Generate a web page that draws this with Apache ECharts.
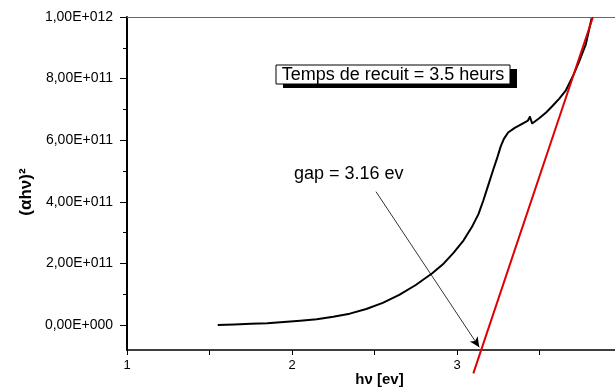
<!DOCTYPE html>
<html>
<head>
<meta charset="utf-8">
<script src="https://cdn.jsdelivr.net/npm/echarts@6/dist/echarts.min.js"></script>
<style>
html,body{margin:0;padding:0;background:#fff;}
#chart{width:615px;height:387px;}
</style>
</head>
<body>
<div id="chart"></div>
<script>
// Absorption curve (hv in eV, (alpha*h*nu)^2)
const hv = [1.55, 1.65, 1.75, 1.85, 1.95, 2.05, 2.15, 2.25, 2.35, 2.45, 2.55, 2.65, 2.75, 2.85, 2.92, 2.98, 3.04, 3.09, 3.13, 3.16, 3.19, 3.22, 3.245, 3.265, 3.285, 3.31, 3.35, 3.40, 3.43, 3.442, 3.455, 3.47, 3.50, 3.54, 3.58, 3.62, 3.66, 3.70, 3.74, 3.78, 3.816];
const alphaHv2 = [0.000e12, 0.002e12, 0.004e12, 0.006e12, 0.010e12, 0.014e12, 0.019e12, 0.027e12, 0.037e12, 0.052e12, 0.072e12, 0.098e12, 0.130e12, 0.168e12, 0.200e12, 0.235e12, 0.275e12, 0.318e12, 0.360e12, 0.405e12, 0.455e12, 0.505e12, 0.545e12, 0.580e12, 0.605e12, 0.625e12, 0.640e12, 0.655e12, 0.664e12, 0.676e12, 0.655e12, 0.660e12, 0.672e12, 0.690e12, 0.712e12, 0.735e12, 0.762e12, 0.805e12, 0.855e12, 0.910e12, 0.996e12];
// Linear fit (red line)
const fitHv = [3.099, 3.824];
const fitY = [-0.157e12, 1.0e12];
// Arrow from label to gap
const arrowHv = [2.509, 3.135];
const arrowY = [0.433e12, -0.072e12];
// Axis ticks
const xMin = 1, xMax = 4, xStep = 0.5;
const yMin = -0.081e12, yMax = 1e12;
const yTickValues = [0, 2e11, 4e11, 6e11, 8e11, 1e12];
const yTickLabels = ['0,00E+000', '2,00E+011', '4,00E+011', '6,00E+011', '8,00E+011', '1,00E+012'];
const yMinorTicks = [1e11, 3e11, 5e11, 7e11, 9e11];
const xTickLabels = {1: '1', 2: '2', 3: '3', 4: '4'};
const boxText = 'Temps de recuit = 3.5 heurs';
const gapText = 'gap = 3.16 ev';

const FONT = "'Liberation Sans', Arial, sans-serif";
const chart = echarts.init(document.getElementById('chart'), null, {renderer: 'canvas'});
const gridRect = {left: 127, top: 17, width: 495, height: 333, outerBoundsMode: 'none'};

const option = {
  animation: false,
  backgroundColor: '#fff',
  grid: [Object.assign({}, gridRect), Object.assign({}, gridRect)],
  xAxis: [{
    type: 'value', gridIndex: 0, min: xMin, max: xMax, interval: xStep,
    name: 'hν [ev]', nameLocation: 'middle', nameGap: 22, nameMoveOverlap: false,
    nameTextStyle: {fontFamily: FONT, fontSize: 15, fontWeight: 'bold', color: '#000', padding: [0, 0, 0, 10]},
    axisLine: {onZero: false, lineStyle: {color: '#000', width: 1.5}},
    axisTick: {length: 5, lineStyle: {color: '#000', width: 1}},
    axisLabel: {margin: 9, fontFamily: FONT, fontSize: 13, color: '#000',
      formatter: v => (xTickLabels[v] !== undefined ? xTickLabels[v] : '')},
    splitLine: {show: false}
  }, {
    type: 'value', gridIndex: 1, position: 'top', min: xMin, max: xMax,
    axisLine: {onZero: false, lineStyle: {color: '#666', width: 1}},
    axisTick: {show: false}, axisLabel: {show: false}, splitLine: {show: false}
  }],
  yAxis: [{
    type: 'value', gridIndex: 0, min: yMin, max: yMax,
    name: '(αhν)²', nameLocation: 'middle', nameGap: 92, nameMoveOverlap: false,
    nameTextStyle: {fontFamily: FONT, fontSize: 17, fontWeight: 'bold', color: '#000', padding: [0, 17, 0, 0]},
    axisLine: {onZero: false, lineStyle: {color: '#000', width: 2}},
    axisTick: {customValues: yTickValues, length: 7, lineStyle: {color: '#000', width: 1}},
    axisLabel: {customValues: yTickValues, margin: 14, fontFamily: FONT, fontSize: 14, color: '#000',
      formatter: v => { const i = yTickValues.indexOf(v); return i >= 0 ? yTickLabels[i] : ''; }},
    splitLine: {show: false}
  }, {
    type: 'value', gridIndex: 1, min: yMin, max: yMax,
    axisLine: {show: false, onZero: false},
    axisTick: {customValues: yMinorTicks, length: 4, lineStyle: {color: '#000', width: 1}},
    axisLabel: {show: false}, splitLine: {show: false}
  }],
  series: [{
    type: 'line', xAxisIndex: 0, yAxisIndex: 0,
    data: hv.map((x, i) => [x, alphaHv2[i]]),
    showSymbol: false, smooth: false,
    lineStyle: {color: '#000', width: 2, join: 'round'}, silent: true
  }, {
    type: 'line', xAxisIndex: 0, yAxisIndex: 0, clip: false,
    data: fitHv.map((x, i) => [x, fitY[i]]),
    showSymbol: false,
    lineStyle: {color: '#e00000', width: 2}, silent: true,
    markLine: {
      silent: true, symbol: ['none', 'arrow'], symbolSize: [7, 10],
      label: {show: false},
      lineStyle: {color: '#000', width: 0.8, type: 'solid'},
      data: [[{coord: [arrowHv[0], arrowY[0]]}, {coord: [arrowHv[1], arrowY[1]]}]]
    }
  }],
  graphic: [
    {type: 'rect', shape: {x: 283, y: 69, width: 234, height: 19}, style: {fill: '#000'}, silent: true},
    {type: 'rect', shape: {x: 276, y: 65, width: 234, height: 19}, style: {fill: '#fff', stroke: '#000', lineWidth: 1}, silent: true},
    {type: 'text', x: 393, y: 75, style: {text: boxText, fontFamily: FONT, fontSize: 18, fill: '#000', align: 'center', verticalAlign: 'middle'}, silent: true},
    {type: 'text', x: 294, y: 174, style: {text: gapText, fontFamily: FONT, fontSize: 18, fill: '#000', align: 'left', verticalAlign: 'middle'}, silent: true}
  ]
};
chart.setOption(option);
</script>
</body>
</html>
